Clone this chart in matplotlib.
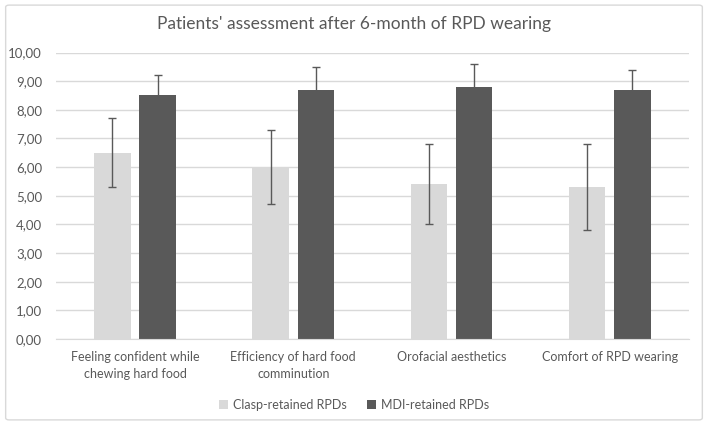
import numpy as np
import matplotlib.pyplot as plt
from matplotlib.patches import FancyBboxPatch

categories = ['Feeling confident while\nchewing hard food',
              'Efficiency of hard food\ncomminution',
              'Orofacial aesthetics',
              'Comfort of RPD wearing']
clasp_mean = [6.5, 6.0, 5.4, 5.3]
clasp_err = [1.2, 1.3, 1.4, 1.5]
mdi_mean = [8.5, 8.7, 8.8, 8.7]
mdi_err = [0.7, 0.8, 0.8, 0.7]
series_names = ['Clasp-retained RPDs', 'MDI-retained RPDs']
yticks = np.arange(0, 11, 1)

plt.rcParams['font.family'] = ['Lato', 'DejaVu Sans']
txt = '#595959'

fig = plt.figure(figsize=(7.08, 4.25), dpi=100)
ax = fig.add_axes([0.079, 0.2024, 0.894, 0.674])

# outer chart frame
fig.patches.append(FancyBboxPatch((0.008, 0.012), 0.984, 0.976, boxstyle='round,pad=0,rounding_size=0.005',
                                  transform=fig.transFigure, facecolor='none',
                                  edgecolor='#D9D9D9', linewidth=1))

x = np.arange(len(categories))
w = 0.23
off = 0.143
ax.bar(x - off, clasp_mean, w, color='#D9D9D9', label=series_names[0], zorder=2)
ax.bar(x + off, mdi_mean, w, color='#595959', label=series_names[1], zorder=2)
ax.errorbar(x - off, clasp_mean, yerr=clasp_err, fmt='none', ecolor='#595959',
            elinewidth=1, capsize=3, capthick=1, zorder=3)
ax.errorbar(x + off, mdi_mean, yerr=mdi_err, fmt='none', ecolor='#595959',
            elinewidth=1, capsize=3, capthick=1, zorder=3)

ax.set_xlim(-0.5, len(categories) - 0.5)
ax.set_ylim(0, 10)
ax.set_yticks(yticks)
ax.set_yticklabels([f'{v:.2f}'.replace('.', ',') for v in yticks])
ax.set_xticks(x)
ax.set_xticklabels(categories, fontsize=9, color=txt, linespacing=1.45)
ax.tick_params(axis='y', labelsize=9.5, labelcolor=txt, length=0, pad=10)
ax.tick_params(axis='x', length=0, pad=9)
ax.grid(axis='y', color='#D9D9D9', linewidth=1, zorder=0)
ax.set_axisbelow(True)
for s in ['top', 'right', 'left']:
    ax.spines[s].set_visible(False)
ax.spines['bottom'].set_color('#D9D9D9')

fig.text(0.5, 0.943, "Patients' assessment after 6-month of RPD wearing",
         ha='center', va='center', fontsize=12.5, color=txt)

fig.legend(loc='center', bbox_to_anchor=(0.5, 0.047), ncol=2, frameon=False,
           fontsize=9, labelcolor=txt, handlelength=0.7, handleheight=0.7,
           handletextpad=0.4, columnspacing=1.6)

fig.savefig('out.png', dpi=100)
